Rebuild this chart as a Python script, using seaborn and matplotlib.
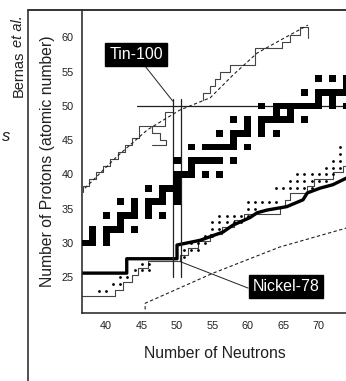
import numpy as np
import matplotlib
matplotlib.use("Agg")
import matplotlib.pyplot as plt
from matplotlib.lines import Line2D
import seaborn as sns

# stable nuclei (black squares), one entry per nucleus
stable_n = [37, 38, 40, 38, 40, 38, 40, 41, 42, 44, 42, 40, 42, 43, 44, 46, 48,
            44, 46, 42, 44, 46, 47, 48, 50, 48, 50, 46, 48, 49, 50, 50,
            50, 51, 52, 54, 56, 52, 50, 52, 53, 54, 55, 56, 58,
            52, 54, 55, 56, 57, 58, 60, 58, 56, 58, 59, 60, 62, 64, 60, 62,
            58, 60, 62, 63, 64, 65, 66, 68, 64, 66,
            62, 64, 65, 66, 67, 68, 69, 70, 72, 74, 70, 72,
            68, 70, 71, 72, 73, 74, 74, 70, 72, 74, 75]
stable_z = ([30] * 3 + [31] * 2 + [32] * 5 + [33] + [34] * 6 + [35] * 2 + [36] * 6
            + [37] * 2 + [38] * 4 + [39] + [40] * 5 + [41] + [42] * 7 + [44] * 7
            + [45] + [46] * 6 + [47] * 2 + [48] * 8 + [49] * 2 + [50] * 10
            + [51] * 2 + [52] * 6 + [53] + [54] * 4)

# newly found neutron-rich nuclei (dotted cells)
new_n = [39, 40, 41, 42, 42, 43, 44, 45, 46, 45, 46,
         51, 51, 52, 53, 52, 53, 54, 54, 55, 55, 56, 55, 56, 57, 58, 59,
         56, 57, 58, 59, 60, 60, 61, 60, 61, 62, 63, 64,
         64, 65, 66, 67, 68, 69, 66, 67, 68, 69, 70, 71,
         67, 68, 69, 70, 71, 72, 73, 71, 72, 73, 72, 73, 73]
new_z = [23, 23, 24, 24, 25, 25, 26, 26, 26, 27, 27,
         28, 29, 29, 29, 30, 30, 30, 31, 31, 32, 32, 33, 33, 33, 33, 33,
         34, 34, 34, 34, 34, 35, 35, 36, 36, 36, 36, 36,
         38, 38, 38, 38, 38, 38, 39, 39, 39, 39, 39, 39,
         40, 40, 40, 40, 40, 40, 41, 41, 41, 42, 42, 43, 44]

# known proton-rich limit (thin staircase) below N = 50, with its small overhang
prot_lo_n = [36.7, 36.7, 37.6, 37.6, 38.6, 38.6, 39.6, 39.6, 40.6, 40.6, 41.6, 41.6,
             42.6, 42.6, 43.6, 43.6, 44.6, 44.6, 46.4, 48.3, 48.3, 49.4]
prot_lo_z = [37.4, 38.3, 38.3, 39.3, 39.3, 40.3, 40.3, 41.3, 41.3, 42.3, 42.3, 43.3,
             43.3, 44.3, 44.3, 45.3, 45.3, 47.0, 47.0, 47.0, 49.1, 49.1]
notch_n = [46.4, 46.4, 47.6, 47.6, 48.5, 48.5, 46.4]
notch_z = [47.0, 46.0, 46.0, 45.0, 45.0, 44.3, 44.3]
# known proton-rich limit above N = 50
prot_hi_n = [53.7, 53.7, 54.7, 54.7, 55.4, 55.4, 56.1, 56.1, 57.5, 57.5, 61.0, 61.0,
             64.8, 64.8, 66.0, 66.0, 67.4, 67.4, 68.5, 68.5]
prot_hi_z = [50.9, 51.9, 51.9, 52.9, 52.9, 53.9, 53.9, 55.0, 55.0, 56.0, 56.0, 58.5,
             58.5, 59.3, 59.3, 60.4, 60.4, 61.5, 61.5, 59.9]

# neutron-rich limit (thin staircase), step edges and levels
neut_n = [36.6, 41.2, 42.4, 43.6, 44.5, 45.9, 50.4, 51.6, 53.0, 54.6, 56.3, 58.0,
          59.4, 64.5, 65.2, 66.0, 68.3, 69.3, 72.0, 73.4, 76.0]
neut_z = [22.2, 23.2, 24.3, 25.3, 26.3, 27.3, 28.3, 29.3, 30.3, 31.3, 32.3, 33.3,
          34.3, 35.3, 36.3, 37.3, 38.3, 39.3, 40.3, 41.3, 41.3]

# r-process path (thick line)
path_n = [36.6, 42.9, 42.9, 50.0, 50.0, 53.3, 56.5, 57.9, 60.3, 61.3, 62.7, 65.5,
          67.8, 68.4, 70.2, 72.0, 74.0, 76.0]
path_z = [25.6, 25.6, 27.7, 27.7, 29.7, 30.4, 31.6, 32.6, 33.7, 34.4, 34.8, 35.3,
          36.3, 37.3, 38.0, 38.5, 39.5, 40.2]

# predicted drip lines (dashed)
pdrip_n = [37.0, 41.5, 45.8, 50.4, 54.7, 57.9, 61.3, 64.6, 67.8, 68.5]
pdrip_z = [38.0, 42.6, 46.5, 49.4, 51.2, 54.5, 57.7, 59.6, 61.4, 61.8]
ndrip_n = [45.5, 45.5, 55.1, 64.5, 74.0, 76.0]
ndrip_z = [20.3, 21.2, 25.6, 29.4, 32.2, 32.8]

# doubly magic markers
magic_n = [49.5, 50.5]
magic_z_lo, magic_z_hi = 25.0, 51.0
tin_z, tin_n_start = 50.0, 44.3

xticks = [40, 45, 50, 55, 60, 65, 70, 75]
yticks = [25, 30, 35, 40, 45, 50, 55, 60]

sns.set_theme(style="white")
plt.rcParams["font.family"] = ["Liberation Sans", "DejaVu Sans"]

W, H = 346, 381
fig = plt.figure(figsize=(W / 100, H / 100), dpi=100)
ax = fig.add_axes([82 / W, 1 - 313 / H, (360 - 82) / W, (313 - 10) / H])

ax.bar(stable_n, 1.0, bottom=np.array(stable_z) - 0.5, width=1.0,
       color="black", linewidth=0, zorder=3)
sns.scatterplot(x=new_n, y=new_z, s=4, color="black", linewidth=0, ax=ax, zorder=3)

ink = "#202020"
for xs, ys in [(prot_lo_n, prot_lo_z), (notch_n, notch_z), (prot_hi_n, prot_hi_z)]:
    sns.lineplot(x=xs, y=ys, estimator=None, sort=False, color="#444444", lw=0.8, ax=ax)
sns.lineplot(x=neut_n, y=neut_z, estimator=None, sort=False, drawstyle="steps-post",
             color="#444444", lw=0.8, ax=ax)
for xs, ys in [(pdrip_n, pdrip_z), (ndrip_n, ndrip_z)]:
    sns.lineplot(x=xs, y=ys, estimator=None, sort=False, color=ink, lw=0.8,
                 ax=ax).lines[-1].set_dashes([3, 2.2])
sns.lineplot(x=path_n, y=path_z, estimator=None, sort=False, color="black", lw=2.4, ax=ax)

for n in magic_n:
    ax.plot([n, n], [magic_z_lo, magic_z_hi], color=ink, lw=0.9)
ax.plot([tin_n_start, 80], [tin_z, tin_z], color=ink, lw=0.9)

box = dict(boxstyle="square,pad=0.25", fc="black", ec="black")
ax.annotate("Tin-100", xy=(49.4, 50.7), xytext=(44.2, 57.5), color="white",
            fontsize=11.5, ha="center", va="center", bbox=box,
            arrowprops=dict(arrowstyle="-", color=ink, lw=0.7, shrinkA=0, shrinkB=0))
ax.annotate("Nickel-78", xy=(50.4, 27.3), xytext=(65.4, 23.6), color="white",
            fontsize=11.5, ha="center", va="center", bbox=box,
            arrowprops=dict(arrowstyle="-", color=ink, lw=0.7, shrinkA=0, shrinkB=0,
                            relpos=(0, 0.3)))

ax.set_xlim(36.58, 75.85)
ax.set_ylim(19.78, 64.0)
ax.set_xticks(xticks)
ax.set_yticks(yticks)
ax.tick_params(direction="in", length=6, width=0.9, labelsize=7.8, pad=6, colors=ink)
for s in ["top", "right"]:
    ax.spines[s].set_visible(False)
for s in ["left", "bottom"]:
    ax.spines[s].set_color(ink)
    ax.spines[s].set_linewidth(1.1)

ax.set_xlabel("Number of Neutrons", fontsize=11.3, color=ink)
ax.xaxis.set_label_coords((215 - 82) / 278, -0.108)
ax.set_ylabel("Number of Protons (atomic number)", fontsize=11.3, color=ink)
ax.yaxis.set_label_coords(-0.097, 0.50)

# page frame and side notes
fig.add_artist(Line2D([28 / W, 28 / W], [0, 1 - 10 / H], color="#333333", lw=1.2))
fig.add_artist(Line2D([28 / W, 1], [1 - 10 / H, 1 - 10 / H], color="#333333", lw=1.4))
fig.text(18.5 / W, 1 - 97 / H, "Bernas", rotation=90, ha="center", va="bottom",
         fontsize=10.5, color=ink)
fig.text(18.5 / W, 1 - 47 / H, "et al.", rotation=90, ha="center", va="bottom",
         fontsize=10.5, style="italic", color=ink)
fig.text(6 / W, 1 - 137 / H, "s", ha="center", va="center", fontsize=12,
         style="italic", color=ink)

fig.savefig("out.png", dpi=100)
